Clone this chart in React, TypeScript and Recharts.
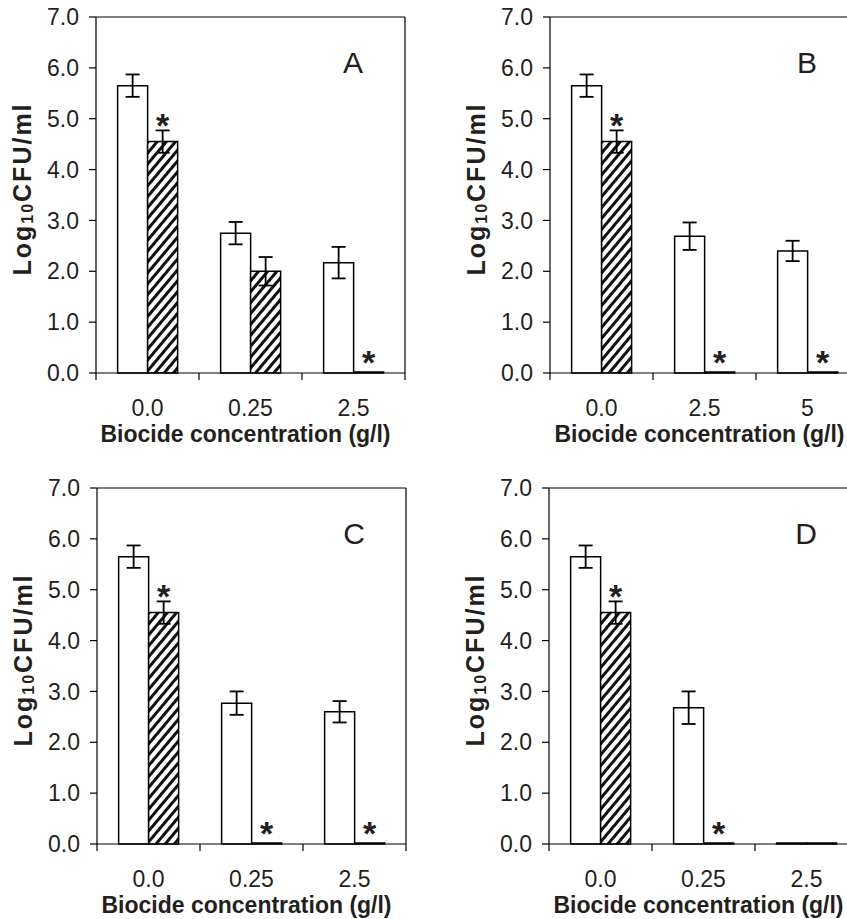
import React from 'react';
import { BarChart, Bar, XAxis, YAxis, ErrorBar, LabelList } from 'recharts';

// tick labels
const catsA = ['0.0', '0.25', '2.5'];
const catsB = ['0.0', '2.5', '5'];
const catsC = ['0.0', '0.25', '2.5'];
const catsD = ['0.0', '0.25', '2.5'];
const yTicks = [0, 1, 2, 3, 4, 5, 6, 7];

// open (white) bars, log10 CFU/ml
const openA = [5.65, 2.75, 2.17];
const openErrA = [0.22, 0.22, 0.31];
const openB = [5.65, 2.69, 2.4];
const openErrB = [0.22, 0.27, 0.2];
const openC = [5.65, 2.77, 2.6];
const openErrC = [0.22, 0.23, 0.21];
const openD = [5.65, 2.68, 0];
const openErrD = [0.22, 0.32, 0];

// hatched bars
const hatchA = [4.55, 2.0, 0];
const hatchErrA = [0.22, 0.28, 0];
const hatchB = [4.55, 0, 0];
const hatchErrB = [0.22, 0, 0];
const hatchC = [4.55, 0, 0];
const hatchErrC = [0.22, 0, 0];
const hatchD = [4.55, 0, 0];
const hatchErrD = [0.22, 0, 0];

// significance asterisks on hatched bars
const starA = [true, false, true];
const starB = [true, true, true];
const starC = [true, true, true];
const starD = [true, true, false];

const FONT = '"Liberation Sans", Arial, Helvetica, sans-serif';
const INK = '#231f20';
const CHART_W = 420;
const CHART_H = 450;
const Y_W = 96;
const X_H = 77;
const M_TOP = 16;
const M_RIGHT = 14;
const PLOT_W = CHART_W - Y_W - M_RIGHT - 1;
const PLOT_H = CHART_H - M_TOP - 1 - X_H;
const BAND = PLOT_W / 3;
const PX_PER_UNIT = PLOT_H / 7;

type Row = {
  conc: string;
  open: number;
  openErr: number;
  hatch: number;
  hatchErr: number;
  star: boolean;
};

const build = (
  cats: string[],
  open: number[],
  openErr: number[],
  hatch: number[],
  hatchErr: number[],
  star: boolean[]
): Row[] =>
  cats.map((c, i) => ({
    conc: c,
    open: open[i],
    openErr: openErr[i],
    hatch: hatch[i],
    hatchErr: hatchErr[i],
    star: star[i],
  }));

const XTick = (props: any) => {
  const { x, y, payload, index } = props;
  const half = BAND / 2;
  return (
    <g>
      <line x1={x - half} y1={y} x2={x - half} y2={y + 7} stroke="#000" strokeWidth={1.2} />
      {index === 2 && (
        <line x1={x + half} y1={y} x2={x + half} y2={y + 7} stroke="#000" strokeWidth={1.2} />
      )}
      <text x={x} y={y + 43} textAnchor="middle" fontSize={23} fontFamily={FONT} fill={INK}>
        {payload.value}
      </text>
    </g>
  );
};

const Panel = ({
  data,
  letter,
  left,
  top,
  id,
}: {
  data: Row[];
  letter: string;
  left: number;
  top: number;
  id: string;
}) => {
  const star = (p: any) => {
    const row = data[p.index];
    if (!row || !row.star) return null;
    const cx = p.x + p.width / 2;
    const errTop = p.y - row.hatchErr * PX_PER_UNIT;
    const dy = row.hatch === 0 ? 2 : 7;
    return (
      <text
        x={cx}
        y={errTop + dy}
        textAnchor="middle"
        fontSize={34}
        fontWeight="bold"
        fontFamily={FONT}
        fill={INK}
      >
        *
      </text>
    );
  };

  return (
    <div style={{ position: 'absolute', left, top }}>
      <BarChart
        width={CHART_W}
        height={CHART_H}
        data={data}
        margin={{ top: M_TOP, right: M_RIGHT, left: 0, bottom: 0 }}
        barCategoryGap="21%"
        barGap={0}
      >
        <defs>
          <pattern
            id={id}
            patternUnits="userSpaceOnUse"
            width={7}
            height={7}
            patternTransform="rotate(40)"
          >
            <rect x={0} y={0} width={7} height={7} fill="#fff" />
            <rect x={0} y={0} width={3} height={7} fill="#111" />
          </pattern>
        </defs>
        <XAxis
          dataKey="conc"
          tickLine={false}
          tickSize={0}
          tickMargin={0}
          height={X_H}
          axisLine={{ stroke: '#000', strokeWidth: 1.2 }}
          tick={<XTick />}
          label={(p: any) => {
            const vb = p.viewBox;
            return (
              <text
                x={vb.x + vb.width / 2 - 5}
                y={vb.y + 69}
                textAnchor="middle"
                fontSize={23}
                fontWeight="bold"
                fontFamily={FONT}
                fill={INK}
              >
                Biocide concentration (g/l)
              </text>
            );
          }}
        />
        <XAxis
          xAxisId="top"
          orientation="top"
          dataKey="conc"
          height={1}
          tick={false}
          tickLine={false}
          axisLine={{ stroke: '#000', strokeWidth: 1.2 }}
          label={(p: any) => {
            const vb = p.viewBox;
            return (
              <text
                x={vb.x + vb.width - 52}
                y={vb.y + vb.height + 56}
                textAnchor="middle"
                fontSize={30}
                fontFamily={FONT}
                fill={INK}
              >
                {letter}
              </text>
            );
          }}
        />
        <YAxis
          domain={[0, 7]}
          ticks={yTicks}
          interval={0}
          width={Y_W}
          tickSize={7}
          tickMargin={10}
          tickFormatter={(v: number) => v.toFixed(1)}
          tick={{ fontSize: 23, fontFamily: FONT, fill: INK }}
          tickLine={{ stroke: '#000', strokeWidth: 1.2 }}
          axisLine={{ stroke: '#000', strokeWidth: 1.2 }}
          label={(p: any) => {
            const vb = p.viewBox;
            const cx = vb.x + 22;
            const cy = vb.y + vb.height / 2 - 6;
            return (
              <text
                x={cx}
                y={cy}
                transform={`rotate(-90, ${cx}, ${cy})`}
                textAnchor="middle"
                dominantBaseline="central"
                fontSize={25}
                fontWeight="bold"
                fontFamily={FONT}
                letterSpacing={2}
                fill={INK}
              >
                <tspan>Log</tspan>
                <tspan fontSize={16} dy={5}>10</tspan>
                <tspan dy={-5}>CFU/ml</tspan>
              </text>
            );
          }}
        />
        <YAxis
          yAxisId="right"
          orientation="right"
          domain={[0, 7]}
          width={1}
          tick={false}
          tickLine={false}
          axisLine={{ stroke: '#000', strokeWidth: 1.2 }}
        />
        <Bar
          dataKey="open"
          fill="#fff"
          stroke="#000"
          strokeWidth={1.5}
          minPointSize={1}
          isAnimationActive={false}
        >
          <ErrorBar
            dataKey="openErr"
            width={7}
            stroke="#000"
            strokeWidth={1.8}
            direction="y"
            isAnimationActive={false}
          />
        </Bar>
        <Bar
          dataKey="hatch"
          fill={`url(#${id})`}
          stroke="#000"
          strokeWidth={1.5}
          minPointSize={1}
          isAnimationActive={false}
        >
          <ErrorBar
            dataKey="hatchErr"
            width={7}
            stroke="#000"
            strokeWidth={1.8}
            direction="y"
            isAnimationActive={false}
          />
          <LabelList dataKey="hatch" content={star} />
        </Bar>
      </BarChart>
    </div>
  );
};

const dataA = build(catsA, openA, openErrA, hatchA, hatchErrA, starA);
const dataB = build(catsB, openB, openErrB, hatchB, hatchErrB, starB);
const dataC = build(catsC, openC, openErrC, hatchC, hatchErrC, starC);
const dataD = build(catsD, openD, openErrD, hatchD, hatchErrD, starD);

export default function App() {
  return (
    <div
      style={{
        position: 'absolute',
        left: 0,
        top: 0,
        width: 847,
        height: 919,
        overflow: 'hidden',
        background: '#fff',
      }}
    >
      <Panel data={dataA} letter="A" left={0} top={0} id="hatchA" />
      <Panel data={dataB} letter="B" left={454} top={0} id="hatchB" />
      <Panel data={dataC} letter="C" left={1} top={471} id="hatchC" />
      <Panel data={dataD} letter="D" left={453} top={471} id="hatchD" />
    </div>
  );
}
